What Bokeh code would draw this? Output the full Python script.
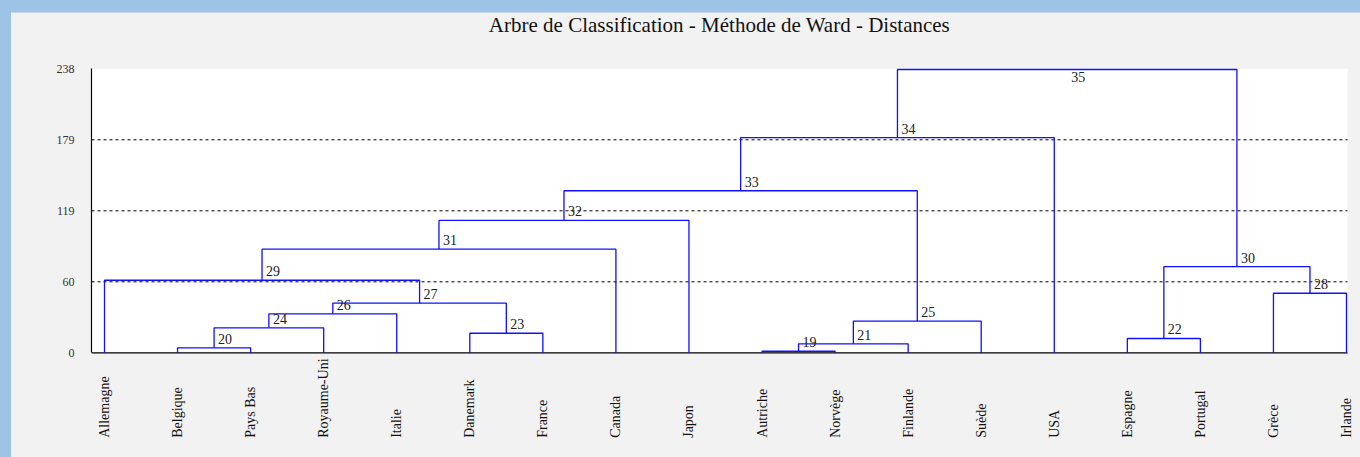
import math
from bokeh.plotting import figure
from bokeh.models import ColumnDataSource, FixedTicker, GlobalInlineStyleSheet
from bokeh.core.properties import value
from bokeh.embed import file_html
from bokeh.resources import INLINE

# ---------------- data ----------------
leaves = ["Allemagne", "Belgique", "Pays Bas", "Royaume-Uni", "Italie", "Danemark",
          "France", "Canada", "Japon", "Autriche", "Norvège", "Finlande", "Suède",
          "USA", "Espagne", "Portugal", "Grèce", "Irlande"]          # node ids 1..18
node_ids = list(range(19, 36))
merge_left = [10, 2, 19, 15, 6, 20, 21, 24, 26, 17, 1, 22, 29, 31, 32, 33, 34]
merge_right = [11, 3, 12, 16, 7, 4, 13, 5, 23, 18, 27, 28, 8, 9, 25, 14, 30]
merge_height = [1.3, 4.2, 7.5, 12.0, 16.4, 20.9, 26.5, 32.7, 41.6, 49.9, 60.8,
                72.3, 86.8, 110.9, 135.8, 180.4, 237.4]
y_ticks = [0, 59.5, 119, 178.5, 238]
y_tick_labels = ["0", "60", "119", "179", "238"]
title = "Arbre de Classification - Méthode de Ward - Distances"

# ---------------- tree geometry ----------------
pos = {i + 1: float(i) for i in range(len(leaves))}
hgt = {i + 1: 0.0 for i in range(len(leaves))}
xs, ys = [], []
lab_x, lab_y, lab_t = [], [], []
for nid, l, r, h in zip(node_ids, merge_left, merge_right, merge_height):
    xl, xr = pos[l], pos[r]
    xs.append([xl, xl, xr, xr])
    ys.append([hgt[l], h, h, hgt[r]])
    pos[nid] = (xl + xr) / 2.0
    hgt[nid] = h
    lab_x.append(pos[nid]); lab_y.append(h); lab_t.append(str(nid))

# ---------------- layout (pixels) ----------------
W, H = 1360, 457
ML = 91                      # plot area left edge
PLOT_TOP, PLOT_BOT = 68.3, 352.3
PLOT_RIGHT = 1347
LEFT_PAD = 13                # first leaf to plot left edge
YMAX = y_ticks[-1]
PPU = (PLOT_BOT - PLOT_TOP) / YMAX
n = len(leaves)
PPX = (PLOT_RIGHT - 1 - ML - LEFT_PAD) / (n - 1)
x0 = -LEFT_PAD / PPX
x1 = x0 + (W - ML) / PPX
x_end = x0 + (PLOT_RIGHT - ML) / PPX
y0 = -(H - PLOT_BOT) / PPU
y1 = YMAX + PLOT_TOP / PPU

root = node_ids[-1]
keep = [t != str(root) for t in lab_t]
up_src = ColumnDataSource(dict(x=[v for v, k in zip(lab_x, keep) if k],
                               y=[v + 9 / PPU for v, k in zip(lab_y, keep) if k],
                               t=[v for v, k in zip(lab_t, keep) if k]))
down_src = ColumnDataSource(dict(x=[pos[root]], y=[hgt[root] - 7 / PPU], t=[str(root)]))

p = figure(width=W, height=H, output_backend="svg", toolbar_location=None,
           x_range=(x0, x1), y_range=(y0, y1), x_axis_location=None,
           min_border_left=ML, min_border_right=0, min_border_top=0, min_border_bottom=0)
p.border_fill_color = None
p.background_fill_color = None
p.outline_line_color = None
p.grid.grid_line_color = None

# white plot area
p.quad(left=[x0], right=[x_end], bottom=[0], top=[YMAX], fill_color="white",
       line_color=None)

# dashed reference lines at the inner ticks
inner = y_ticks[1:-1]
p.segment(x0=[x0] * len(inner), x1=[x_end] * len(inner), y0=inner, y1=inner,
          line_color="black", line_dash="3 3", line_width=1)
# baseline (x axis line)
p.segment(x0=[x0], x1=[x_end], y0=[0], y1=[0], line_color="black", line_width=1.2)

# y axis
p.yaxis.ticker = FixedTicker(ticks=y_ticks)
p.yaxis.bounds = (0, YMAX)
p.yaxis.major_label_overrides = {t: s for t, s in zip(y_ticks, y_tick_labels)}
p.yaxis.major_tick_line_color = None
p.yaxis.minor_tick_line_color = None
p.yaxis.major_tick_out = 0
p.yaxis.major_tick_in = 0
p.yaxis.minor_tick_out = 0
p.yaxis.major_label_standoff = 17
p.yaxis.major_label_text_font = "Liberation Serif"
p.yaxis.major_label_text_font_size = "12px"
p.yaxis.major_label_text_color = "#333333"
p.yaxis.axis_line_color = "black"
p.yaxis.axis_line_width = 1.2

# dendrogram
p.multi_line(xs=xs, ys=ys, line_color="#1010ff", line_width=1.3)

p.text(x="x", y="y", text="t", source=up_src, x_offset=4,
       text_font=value("Liberation Serif"), text_font_size="14px",
       text_color="#222222", text_baseline="alphabetic", text_align="left")
p.text(x="x", y="y", text="t", source=down_src, x_offset=4,
       text_font=value("Liberation Serif"), text_font_size="14px",
       text_color="#222222", text_baseline="alphabetic", text_align="left")

# leaf names
leaf_src = ColumnDataSource(dict(x=[float(i) for i in range(n)],
                                 y=[-85 / PPU] * n, t=leaves))
p.text(x="x", y="y", text="t", source=leaf_src, angle=math.pi / 2,
       text_align="left", text_baseline="middle",
       text_font=value("Liberation Serif"), text_font_size="14px",
       text_color="#111111")

# title
p.text(x=[(x0 + x_end) / 2], y=[YMAX + (PLOT_TOP - 24) / PPU], text=[title],
       text_align="center", text_baseline="alphabetic",
       text_font=value("Liberation Serif"), text_font_size="21px",
       text_color="#111111")

p.stylesheets = [GlobalInlineStyleSheet(css=(
    "html { background: linear-gradient(#9dc3e6,#9dc3e6) 0 0/100% 12.5px no-repeat,"
    " linear-gradient(#9dc3e6,#9dc3e6) 0 0/11px 100% no-repeat, #f2f2f2; }"))]

open("out.html", "w").write(file_html(p, INLINE))
